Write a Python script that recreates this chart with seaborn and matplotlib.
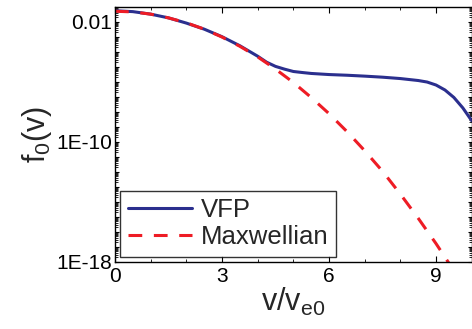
import numpy as np
import pandas as pd
import matplotlib
matplotlib.use("Agg")
import matplotlib.pyplot as plt
import matplotlib.ticker as mticker
import seaborn as sns

# Data (v / v_e0 and f0(v))
v_vfp = [0.0, 0.5, 1.0, 1.5, 2.0, 2.5, 3.0, 3.5, 4.0, 4.25, 4.5, 4.75, 5.0, 5.25,
         5.5, 6.0, 6.5, 7.0, 7.5, 8.0, 8.5, 8.75, 9.0, 9.25, 9.5, 9.75, 10.0]
f_vfp = [5.4e-2, 4.7e-2, 3.2e-2, 1.8e-2, 8.1e-3, 3.2e-3, 1.0e-3, 2.5e-4, 5.0e-5,
         2.0e-5, 1.05e-5, 6.9e-6, 4.8e-6, 4.1e-6, 3.55e-6, 3.0e-6, 2.7e-6, 2.35e-6,
         2.0e-6, 1.62e-6, 1.2e-6, 9.5e-7, 6.0e-7, 2.8e-7, 8.9e-8, 1.8e-8, 2.5e-9]

v_max = [0.0, 0.5, 1.0, 1.5, 2.0, 2.5, 3.0, 3.5, 4.0, 4.5, 5.0, 5.5, 6.0, 6.5,
         7.0, 7.5, 8.0, 8.5, 9.0, 9.5]
f_max = [5.0e-2, 4.5e-2, 3.2e-2, 1.8e-2, 8.5e-3, 3.2e-3, 9.5e-4, 2.3e-4, 4.5e-5,
         6.9e-6, 8.9e-7, 8.9e-8, 7.4e-9, 4.8e-10, 2.5e-11, 1.07e-12, 3.2e-14,
         7.9e-16, 1.6e-17, 2.5e-19]

labels = ["VFP", "Maxwellian"]
ytick_labels = {1e-2: "0.01", 1e-10: "1E-10", 1e-18: "1E-18"}

sns.set_theme(style="ticks")
plt.rcParams["font.family"] = ["Liberation Sans", "DejaVu Sans"]
plt.rcParams["mathtext.fontset"] = "custom"
plt.rcParams["mathtext.rm"] = "Liberation Sans"
plt.rcParams["mathtext.it"] = "Liberation Sans"

fig = plt.figure(figsize=(4.72, 3.29), dpi=100)
ax = fig.add_axes([0.2436, 0.2046, 0.7558, 0.775])

df_vfp = pd.DataFrame({"v": v_vfp, "f": f_vfp})
df_max = pd.DataFrame({"v": v_max, "f": f_max})

sns.lineplot(data=df_vfp, x="v", y="f", ax=ax, color="#2b2f8e", lw=2.2,
             label=labels[0])
sns.lineplot(data=df_max, x="v", y="f", ax=ax, color="#ee1c25", lw=2.2,
             label=labels[1], dashes=False)
ax.lines[1].set_linestyle((0, (4.5, 3.8)))

ax.set_yscale("log")
ax.set_xlim(0, 10)
ax.set_ylim(1e-18, 1e-1)

ax.xaxis.set_major_locator(mticker.FixedLocator([0, 3, 6, 9]))
ax.xaxis.set_minor_locator(mticker.MultipleLocator(1))
ax.yaxis.set_major_locator(mticker.LogLocator(base=10, subs=(1.0,), numticks=40))
ax.yaxis.set_minor_locator(mticker.LogLocator(base=10, subs=np.arange(2, 10), numticks=40))
ax.yaxis.set_minor_formatter(mticker.NullFormatter())


def yfmt(val, pos):
    for k, s in ytick_labels.items():
        if abs(np.log10(val) - np.log10(k)) < 1e-6:
            return s
    return ""


ax.yaxis.set_major_formatter(mticker.FuncFormatter(yfmt))

ax.tick_params(which="both", direction="in", top=True, right=True,
               colors="black", labelsize=15, pad=2)
ax.tick_params(axis="x", which="both", pad=4)
ax.tick_params(which="major", length=4, width=0.8)
ax.tick_params(which="minor", length=2, width=0.6)
ax.tick_params(axis="y", which="major", length=3)
for s in ax.spines.values():
    s.set_color("black")
    s.set_linewidth(1.0)

ax.set_xlabel(r"v/v$_{\mathregular{e0}}$", fontsize=22, labelpad=0)
ax.set_ylabel(r"f$_{\mathregular{0}}$(v)", fontsize=22, labelpad=2)

leg = ax.legend(loc="lower left", bbox_to_anchor=(0.014, 0.018), borderaxespad=0,
                fontsize=18.5, frameon=True, fancybox=False, handlelength=2.5,
                handletextpad=0.35, borderpad=0.3, labelspacing=0.12)
leg.get_frame().set_edgecolor("black")
leg.get_frame().set_linewidth(1.0)

fig.savefig("out.png", dpi=100)
